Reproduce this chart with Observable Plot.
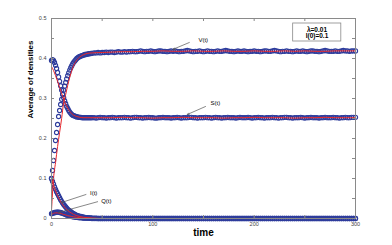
<!DOCTYPE html>
<html>
<head>
<meta charset="utf-8">
<script src="https://cdn.jsdelivr.net/npm/d3@7"></script>
<script src="https://cdn.jsdelivr.net/npm/@observablehq/plot@0.6"></script>
<style>
html,body{margin:0;padding:0;background:#fff;}
#chart svg{display:block;font-family:"Liberation Sans",Arial,sans-serif;}
</style>
</head>
<body>
<div id="chart"></div>
<script>
// ---- simulation (circles): time grid and values ----
const tCircle = d3.range(0, 40, 1).concat(d3.range(40, 301, 2));
const vCircle = [0.10,0.12,0.145,0.17,0.195,0.215,0.235,0.255,0.27,0.285,0.298,0.31,0.321,0.331,0.34,0.349,0.357,0.364,0.371,0.377,0.382,0.387,0.391,0.394,0.397,0.40,0.402,0.404,0.405,0.406,0.407,0.408,0.409,0.41,0.41,0.411,0.411,0.412,0.412,0.413,
0.413,0.414,0.414,0.415,0.414,0.415,0.415,0.416,0.415,0.416,0.416,0.415,0.416,0.417,0.416,0.416,0.417,0.416,0.417,0.417,
0.418,0.417,0.417,0.418,0.419,0.418,0.417,0.418,0.418,0.419,0.418,0.417,0.418,0.419,0.419,0.418,0.418,0.417,0.418,0.419,
0.418,0.419,0.418,0.417,0.418,0.418,0.419,0.42,0.419,0.418,0.417,0.418,0.418,0.419,0.418,0.417,0.418,0.419,0.418,0.418,
0.417,0.418,0.419,0.418,0.418,0.419,0.42,0.419,0.418,0.418,0.417,0.418,0.419,0.418,0.418,0.419,0.418,0.417,0.418,0.418,
0.419,0.418,0.418,0.417,0.418,0.419,0.419,0.418,0.418,0.419,0.42,0.419,0.418,0.417,0.418,0.418,0.419,0.418,0.418,0.417,
0.418,0.419,0.418,0.418,0.419,0.418,0.417,0.418,0.419,0.419,0.418,0.418,0.417,0.418,0.419,0.42,0.419,0.418,0.418,0.418,
0.419,0.418,0.418,0.419,0.42,0.419,0.419,0.418,0.419,0.419,0.419];
const sCircle = [0.395,0.397,0.395,0.39,0.383,0.375,0.365,0.354,0.343,0.332,0.321,0.311,0.302,0.294,0.287,0.28,0.275,0.27,0.266,0.263,0.26,0.258,0.257,0.256,0.255,0.254,0.254,0.253,0.253,0.253,0.252,0.252,0.252,0.252,0.252,0.252,0.252,0.252,0.252,0.252,
0.252,0.252,0.251,0.252,0.253,0.252,0.252,0.251,0.252,0.252,0.253,0.252,0.251,0.252,0.252,0.252,0.253,0.252,0.252,0.251,
0.252,0.253,0.253,0.252,0.252,0.251,0.252,0.252,0.253,0.252,0.252,0.251,0.251,0.252,0.252,0.253,0.252,0.252,0.252,0.251,
0.252,0.252,0.253,0.252,0.251,0.252,0.252,0.252,0.253,0.253,0.252,0.252,0.251,0.252,0.252,0.252,0.253,0.252,0.252,0.251,
0.252,0.253,0.252,0.252,0.251,0.252,0.252,0.253,0.252,0.252,0.252,0.251,0.252,0.253,0.252,0.252,0.252,0.253,0.252,0.251,
0.252,0.252,0.253,0.252,0.252,0.251,0.252,0.252,0.252,0.253,0.252,0.252,0.251,0.252,0.252,0.253,0.253,0.252,0.252,0.251,
0.252,0.252,0.252,0.253,0.252,0.251,0.252,0.252,0.253,0.252,0.252,0.252,0.251,0.252,0.252,0.253,0.252,0.252,0.252,0.253,
0.252,0.252,0.251,0.252,0.252,0.253,0.252,0.252,0.253,0.253,0.253];
const iCircle = [0.10,0.093,0.086,0.079,0.073,0.067,0.062,0.057,0.052,0.047,0.043,0.039,0.035,0.032,0.029,0.026,0.023,0.021,0.019,0.017,0.015,0.013,0.012,0.010,0.009,0.008,0.007,0.006,0.005,0.005,0.004,0.004,0.003,0.003,0.002,0.002,0.002,0.001,0.001,0.001,
0.001,0.001,0.001,0,0,0,0,0,0,0,0,0,0,0,0,0,0,0,0,0,
0,0,0,0,0,0,0,0,0,0,0,0,0,0,0,0,0,0,0,0,
0,0,0,0,0,0,0,0,0,0,0,0,0,0,0,0,0,0,0,0,
0,0,0,0,0,0,0,0,0,0,0,0,0,0,0,0,0,0,0,0,
0,0,0,0,0,0,0,0,0,0,0,0,0,0,0,0,0,0,0,0,
0,0,0,0,0,0,0,0,0,0,0,0,0,0,0,0,0,0,0,0,
0,0,0,0,0,0,0,0,0,0,0];
const qCircle = [0.012,0.013,0.014,0.015,0.015,0.016,0.016,0.016,0.015,0.015,0.014,0.013,0.012,0.011,0.010,0.009,0.008,0.007,0.007,0.006,0.005,0.005,0.004,0.004,0.003,0.003,0.003,0.002,0.002,0.002,0.002,0.001,0.001,0.001,0.001,0.001,0.001,0.001,0.001,0.001,
0,0,0,0,0,0,0,0,0,0,0,0,0,0,0,0,0,0,0,0,
0,0,0,0,0,0,0,0,0,0,0,0,0,0,0,0,0,0,0,0,
0,0,0,0,0,0,0,0,0,0,0,0,0,0,0,0,0,0,0,0,
0,0,0,0,0,0,0,0,0,0,0,0,0,0,0,0,0,0,0,0,
0,0,0,0,0,0,0,0,0,0,0,0,0,0,0,0,0,0,0,0,
0,0,0,0,0,0,0,0,0,0,0,0,0,0,0,0,0,0,0,0,
0,0,0,0,0,0,0,0,0,0,0];

// ---- model (red lines) ----
const tLine = [0,2,4,6,8,10,12,14,16,18,20,22,25,28,32,36,40,50,60,70,80,90,100,110,120,130,140,150,160,170,180,190,200,210,220,230,240,250,260,270,280,290,300];
const vLine = [0.02,0.10,0.14,0.18,0.215,0.25,0.29,0.31,0.333,0.353,0.37,0.383,0.396,0.404,0.41,0.413,0.414,
0.415,0.416,0.417,0.417,0.418,0.418,0.419,0.418,0.418,0.419,0.418,0.418,0.419,0.418,0.418,0.419,0.418,0.418,0.419,0.418,0.419,0.418,0.418,0.419,0.419,0.419];
const sLine = [0.38,0.37,0.357,0.343,0.328,0.313,0.298,0.286,0.276,0.268,0.262,0.258,0.255,0.253,0.252,0.252,0.252,
0.252,0.252,0.253,0.252,0.252,0.251,0.252,0.252,0.253,0.252,0.252,0.252,0.251,0.252,0.252,0.253,0.252,0.252,0.252,0.251,0.252,0.252,0.253,0.252,0.252,0.252];
const iLine = [0.10,0.083,0.069,0.057,0.047,0.038,0.031,0.025,0.02,0.016,0.013,0.01,0.007,0.005,0.003,0.002,0.001,
0,0,0,0,0,0,0,0,0,0,0,0,0,0,0,0,0,0,0,0,0,0,0,0,0,0];
const qLine = [0.01,0.013,0.014,0.014,0.013,0.012,0.01,0.009,0.007,0.006,0.005,0.004,0.003,0.002,0.001,0.001,0.0005,
0,0,0,0,0,0,0,0,0,0,0,0,0,0,0,0,0,0,0,0,0,0,0,0,0,0];

// ---- ticks ----
const xTicks = [0,50,100,150,200,250,300];
const xTickLabels = ["0","50","100","150","200","250","300"];
const yTicks = [0,0.05,0.1,0.15,0.2,0.25,0.3,0.35,0.4,0.45,0.5];
const yTickLabels = ["0","0.05","0.1","0.15","0.2","0.25","0.3","0.35","0.4","0.45","0.5"];

// ---- annotations ----
const annLabels = ["V(t)","S(t)","I(t)","Q(t)"];
const annTextX = [145,157,38,49];
const annTextY = [0.446,0.288,0.063,0.043];
const annFromX = [136,152,34,45.5];
const annFromY = [0.44,0.28,0.06,0.042];
const annToX = [120,134,10,7];
const annToY = [0.423,0.26,0.04,0.015];
const legendLines = ["\u03bb=0.01","I(0)=0.1"];

// build tables
const circleRows = [];
[["V",vCircle],["S",sCircle],["I",iCircle],["Q",qCircle]].forEach(([k,arr]) =>
  arr.forEach((v,i) => circleRows.push({series:k, t:tCircle[i], v})));
const lineRows = [];
[["V",vLine],["S",sLine],["I",iLine],["Q",qLine]].forEach(([k,arr]) =>
  arr.forEach((v,i) => lineRows.push({series:k, t:tLine[i], v})));
const ann = annLabels.map((l,i) => ({l, tx:annTextX[i], ty:annTextY[i], x1:annFromX[i], y1:annFromY[i], x2:annToX[i], y2:annToY[i]}));

const W = 392, H = 245;
const mL = 51, mR = 37, mT = 18, mB = 27;
const innerW = W - mL - mR, innerH = H - mT - mB;
const tickLen = 3;
const blue = "#2e3c9c", red = "#e8262a";

const chart = Plot.plot({
  width: W, height: H,
  marginLeft: mL, marginRight: mR, marginTop: mT, marginBottom: mB,
  x: {domain: [0,300], ticks: xTicks},
  y: {domain: [0,0.5], ticks: yTicks},
  style: {background: "#fff"},
  marks: [
    // data
    Plot.dot(circleRows, {x:"t", y:"v", r:2.1, stroke: blue, strokeWidth:1.1, fill:"none"}),
    Plot.line(lineRows, {x:"t", y:"v", z:"series", stroke: red, strokeWidth:1, curve:"monotone-x"}),
    // frame and inward ticks
    Plot.frame({stroke:"#8a8a8a", strokeWidth:1}),
    Plot.tickY(yTicks, {y:d=>d, stroke:"#8a8a8a", insetRight: innerW - tickLen}),
    Plot.tickY(yTicks, {y:d=>d, stroke:"#8a8a8a", insetLeft: innerW - tickLen}),
    Plot.tickX(xTicks, {x:d=>d, stroke:"#8a8a8a", insetTop: innerH - tickLen}),
    Plot.tickX(xTicks, {x:d=>d, stroke:"#8a8a8a", insetBottom: innerH - tickLen}),
    Plot.axisY({tickSize:0, tickPadding:5, tickFormat:(d)=>yTickLabels[yTicks.indexOf(d)], fontSize:5.5, fill:"#444", label:null}),
    Plot.axisX({tickSize:0, tickPadding:4, tickFormat:(d)=>xTickLabels[xTicks.indexOf(d)], fontSize:5.5, fill:"#444", label:null}),
    // axis titles
    Plot.text(["Average of densities"], {frameAnchor:"left", text:d=>d, rotate:-90, dx:-21, fontWeight:"bold", fontSize:8, fill:"black"}),
    Plot.text(["time"], {frameAnchor:"bottom", text:d=>d, dy:17, fontWeight:"bold", fontSize:10, fill:"black"}),
    // annotations
    Plot.arrow(ann, {x1:"x1", y1:"y1", x2:"x2", y2:"y2", stroke:"#555", strokeWidth:0.7, headLength:4, headAngle:50}),
    Plot.text(ann, {x:"tx", y:"ty", text:"l", fontSize:6, fill:"black", textAnchor:"start"}),
    // legend box
    Plot.rect([0], {x1:238.5, x2:286, y1:0.4425, y2:0.4875, fill:"#fff", stroke:"#888", strokeWidth:0.8}),
    Plot.text([legendLines[0]], {x:262, y:0.4725, text:d=>d, fontSize:6.5, fontWeight:"bold", fill:"black"}),
    Plot.text([legendLines[1]], {x:262, y:0.456, text:d=>d, fontSize:6.5, fontWeight:"bold", fill:"black"})
  ]
});
document.getElementById("chart").appendChild(chart);
</script>
</body>
</html>
